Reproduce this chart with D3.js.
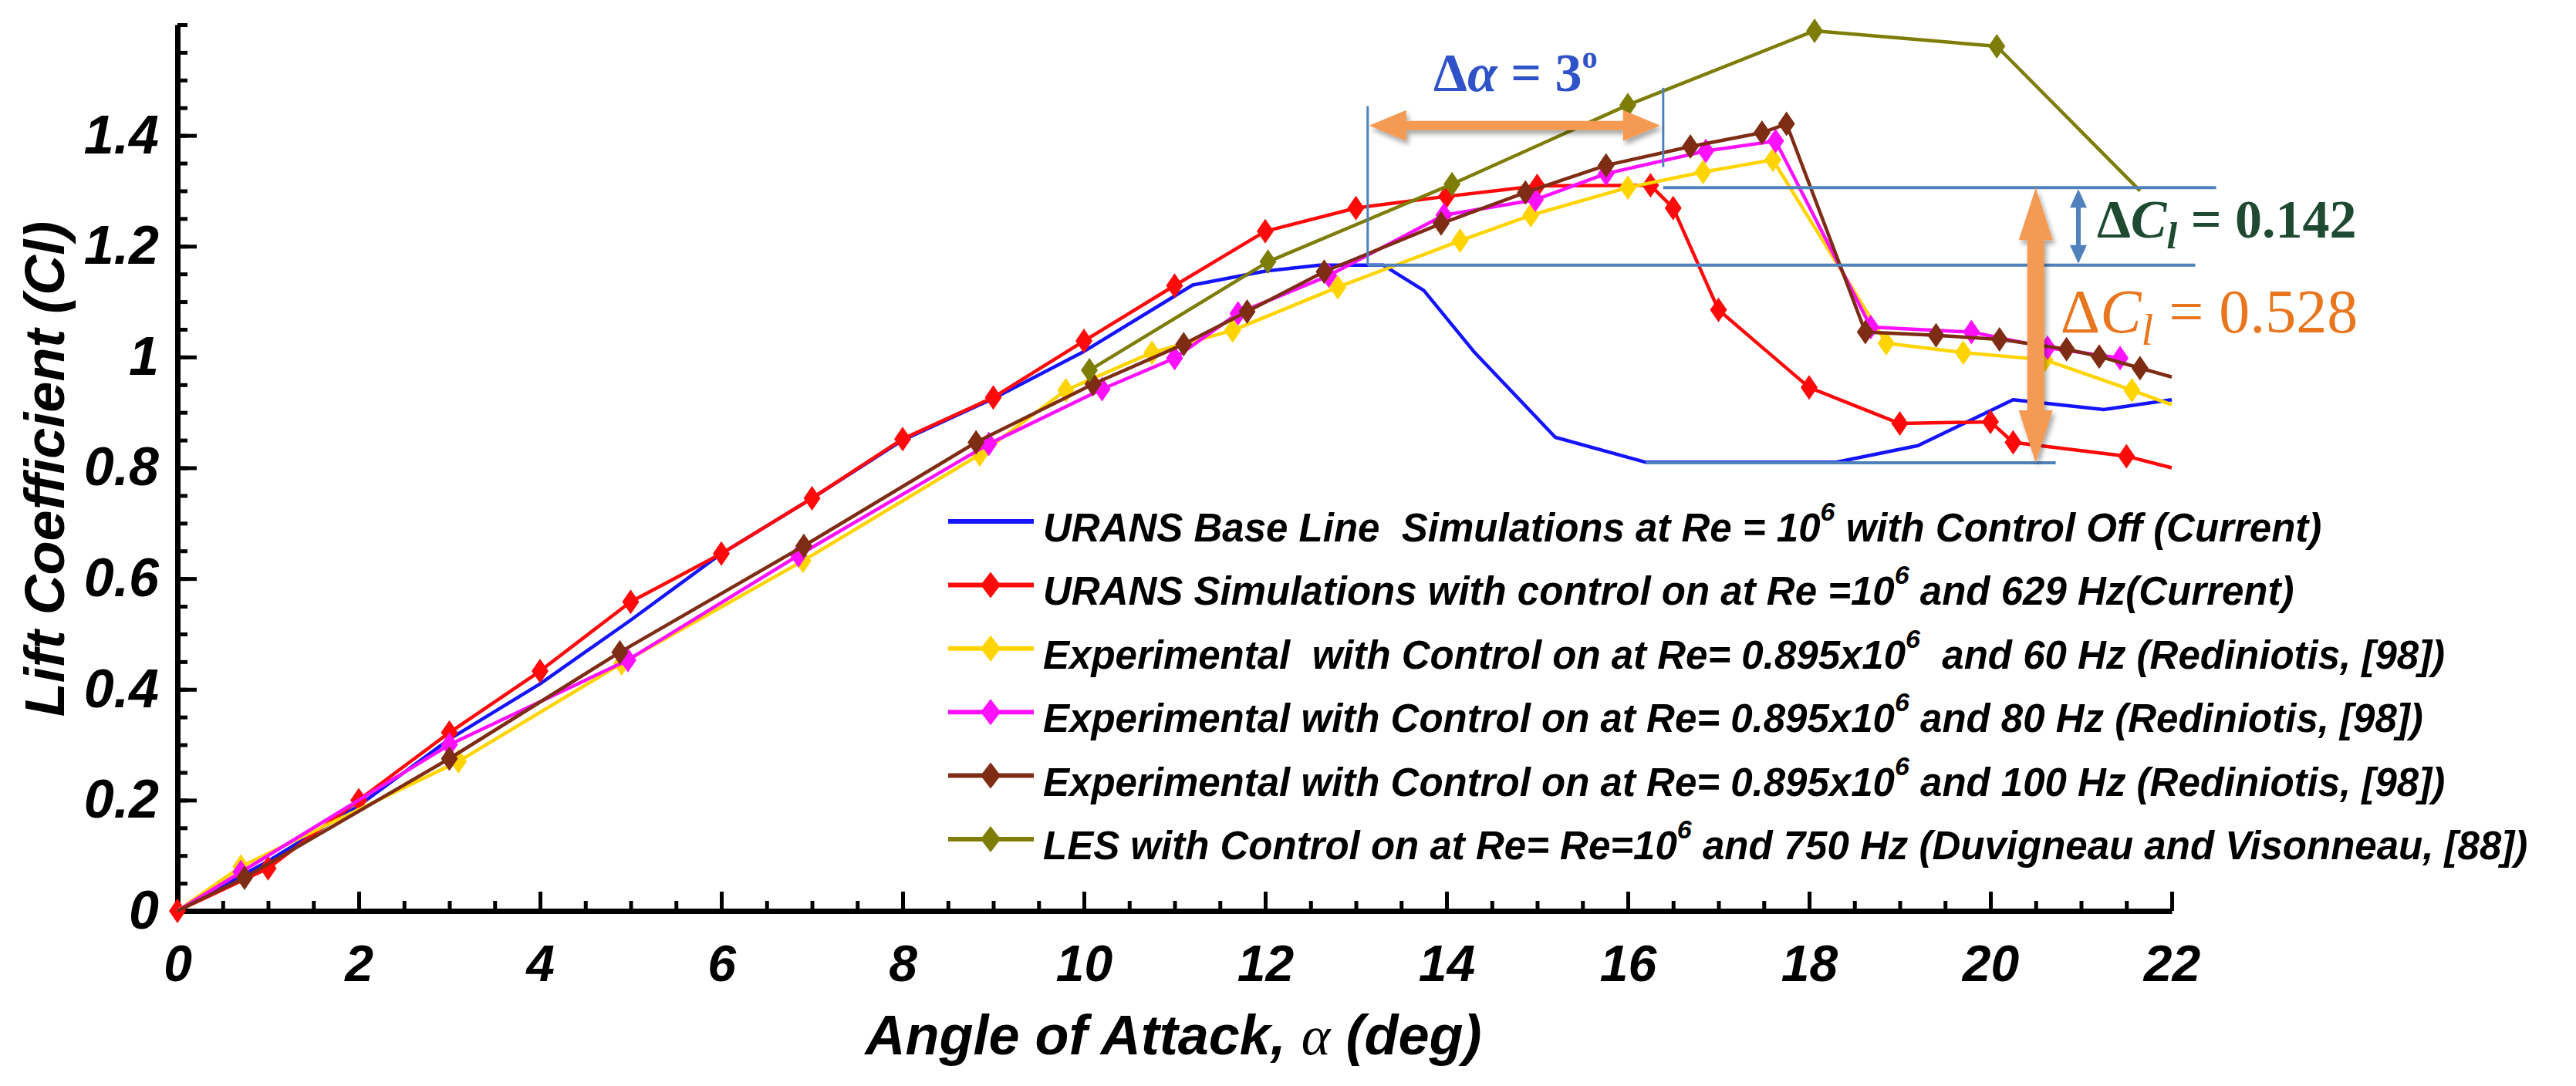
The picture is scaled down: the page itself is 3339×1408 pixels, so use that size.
<!DOCTYPE html>
<html>
<head>
<meta charset="utf-8">
<script src="https://cdn.jsdelivr.net/npm/d3@7"></script>
<style>
  body { margin: 0; background: #ffffff; }
  svg { display: block; }
  text { white-space: pre; }
</style>
</head>
<body>
<div id="chart"></div>
<script>
// Lift coefficient vs angle of attack, each point is [alpha (deg), Cl]
const urans_base_line = [
  [0, 0], [1, 0.09], [2, 0.19], [3, 0.31], [4, 0.41], [5, 0.525], [6, 0.645],
  [7, 0.745], [8, 0.85], [9, 0.925], [10, 1.01], [11.2, 1.13], [12, 1.155],
  [12.6, 1.166], [13.3, 1.166], [13.75, 1.12], [14.3, 1.01], [15.2, 0.855],
  [16.2, 0.81], [18.3, 0.81], [19.2, 0.84], [20.25, 0.923], [21.25, 0.905], [22, 0.923],
];
const urans_control_on = [
  [0, 0], [1, 0.077], [2, 0.2], [3, 0.322], [4, 0.433], [5, 0.558], [6, 0.645],
  [7, 0.745], [8, 0.852], [9, 0.927], [10, 1.029], [11, 1.129], [12, 1.227],
  [13, 1.269], [14, 1.29], [15, 1.309], [16.25, 1.31], [16.5, 1.269], [17, 1.085],
  [18, 0.945], [19, 0.88], [20, 0.883], [20.25, 0.846], [21.5, 0.821], [22, 0.8],
];
const exp_60hz = [
  [0, 0], [0.7, 0.08], [3.1, 0.27], [4.9, 0.447], [6.9, 0.632], [8.85, 0.824],
  [9.8, 0.94], [10.75, 1.008], [11.64, 1.048], [12.8, 1.126], [14.15, 1.21],
  [14.93, 1.256], [16, 1.306], [16.83, 1.334], [17.6, 1.356], [18.85, 1.025],
  [19.7, 1.008], [20.6, 0.995], [21.56, 0.94], [22, 0.914],
];
const exp_80hz = [
  [0, 0], [0.7, 0.07], [3, 0.3], [4.97, 0.453], [6.85, 0.642], [8.95, 0.843],
  [10.2, 0.942], [11, 0.998], [11.7, 1.079], [12.7, 1.147], [13.97, 1.256],
  [14.98, 1.284], [15.76, 1.331], [16.86, 1.372], [17.63, 1.39], [18.68, 1.054],
  [19.79, 1.045], [20.63, 1.017], [21.43, 0.998],
];
const exp_100hz = [
  [0, 0], [0.74, 0.06], [3, 0.275], [4.88, 0.467], [6.91, 0.659], [8.81, 0.846],
  [10.1, 0.951], [11.1, 1.023], [11.8, 1.082], [12.65, 1.154], [13.94, 1.241],
  [14.87, 1.297], [15.76, 1.346], [16.69, 1.38], [17.48, 1.405], [17.75, 1.421],
  [18.62, 1.045], [19.4, 1.039], [20.1, 1.032], [20.84, 1.014], [21.2, 1.001],
  [21.65, 0.98], [22, 0.964],
];
const les_750hz = [
  [10.06, 0.976], [12.03, 1.172], [14.06, 1.312], [16, 1.455], [18.06, 1.589],
  [20.07, 1.561], [21.65, 1.3],
];

const x_ticks = d3.range(0, 23, 2);
const y_ticks = [0, 0.2, 0.4, 0.6, 0.8, 1, 1.2, 1.4];
const x_minor_ticks = d3.range(0, 22.01, 0.5);
const y_minor_ticks = d3.range(0, 1.601, 0.05);

// legend text split as [before superscript, superscript, after]
const legend_labels = [
  ["URANS Base Line  Simulations at Re = 10", "6", " with Control Off (Current)"],
  ["URANS Simulations with control on at Re =10", "6", " and 629 Hz(Current)"],
  ["Experimental  with Control on at Re= 0.895x10", "6", "  and 60 Hz (Rediniotis, [98])"],
  ["Experimental with Control on at Re= 0.895x10", "6", " and 80 Hz (Rediniotis, [98])"],
  ["Experimental with Control on at Re= 0.895x10", "6", " and 100 Hz (Rediniotis, [98])"],
  ["LES with Control on at Re= Re=10", "6", " and 750 Hz (Duvigneau and Visonneau, [88])"],
];

// annotation values (deg / Cl)
const stall_alpha = [13.13, 16.39];
const cl_base_max = 1.166;
const cl_ctrl_max = 1.306;
const cl_base_min = 0.809;
const delta_cl_labels = ["0.142", "0.528"];

const svg_width = 3339;
const svg_height = 1408;
const margins = [32, 524, 227, 230]; //top, right, bottom, left

const sans = "'Liberation Sans', Arial, sans-serif";
const serif = "'Liberation Serif', 'Times New Roman', serif";

const series = [
  { data: urans_base_line, color: "#1414ff", marker: false, label: legend_labels[0] },
  { data: urans_control_on, color: "#ff0a0a", marker: true, first: true, last: false, label: legend_labels[1] },
  { data: exp_60hz, color: "#ffd400", marker: true, first: false, last: false, label: legend_labels[2] },
  { data: exp_80hz, color: "#ff10ff", marker: true, first: false, last: true, label: legend_labels[3] },
  { data: exp_100hz, color: "#7e2c14", marker: true, first: false, last: false, label: legend_labels[4] },
  { data: les_750hz, color: "#7d7d08", marker: true, first: true, last: false, label: legend_labels[5] },
];

let svg, x_axis, y_axis;

function diamond(w, h) {
  return `M0,${-h}L${w},0L0,${h}L${-w},0Z`;
}

function doubleArrow(x1, y1, x2, y2, shaft, head_w, head_l) {
  // arrow along a line, heads at both ends
  const len = Math.hypot(x2 - x1, y2 - y1);
  const pts = [
    [0, 0], [head_l, -head_w / 2], [head_l, -shaft / 2], [len - head_l, -shaft / 2],
    [len - head_l, -head_w / 2], [len, 0], [len - head_l, head_w / 2],
    [len - head_l, shaft / 2], [head_l, shaft / 2], [head_l, head_w / 2],
  ];
  const ang = Math.atan2(y2 - y1, x2 - x1);
  const c = Math.cos(ang), s = Math.sin(ang);
  return "M" + pts.map(([u, v]) => [x1 + u * c - v * s, y1 + u * s + v * c].join(",")).join("L") + "Z";
}

function initAxes() {
  const [margin_top, margin_right, margin_bottom, margin_left] = margins;
  x_axis = d3.scaleLinear().domain([0, 22]).range([margin_left, svg_width - margin_right]);
  y_axis = d3.scaleLinear().domain([0, 1.6]).range([svg_height - margin_bottom, margin_top]);

  const x0 = y_axis(0);
  const y0 = x_axis(0);

  // minor ticks
  svg.append("g")
    .attr("transform", `translate(0,${x0})`)
    .call(d3.axisBottom(x_axis).tickValues(x_minor_ticks).tickSize(-13).tickFormat(""))
    .call((g) => g.select(".domain").remove())
    .call((g) => g.selectAll("line").attr("stroke", "#000").attr("stroke-width", 5));
  svg.append("g")
    .attr("transform", `translate(${y0},0)`)
    .call(d3.axisLeft(y_axis).tickValues(y_minor_ticks).tickSize(-13).tickFormat(""))
    .call((g) => g.select(".domain").remove())
    .call((g) => g.selectAll("line").attr("stroke", "#000").attr("stroke-width", 5));

  // major ticks + labels
  svg.append("g")
    .attr("id", "x_axis")
    .attr("transform", `translate(0,${x0})`)
    .call(d3.axisBottom(x_axis).tickValues(x_ticks).tickSizeInner(-25).tickSizeOuter(0).tickPadding(44).tickFormat(d3.format("~g")))
    .call((g) => g.select(".domain").attr("stroke", "#000").attr("stroke-width", 7))
    .call((g) => g.selectAll("line").attr("stroke", "#000").attr("stroke-width", 5))
    .call((g) => g.selectAll("text")
      .attr("fill", "#000")
      .style("font-family", sans)
      .style("font-size", "66px")
      .style("font-weight", "bold")
      .style("font-style", "italic"));

  svg.append("g")
    .attr("id", "y_axis")
    .attr("transform", `translate(${y0},0)`)
    .call(d3.axisLeft(y_axis).tickValues(y_ticks).tickSizeInner(-25).tickSizeOuter(0).tickPadding(24).tickFormat(d3.format("~g")))
    .call((g) => g.select(".domain").attr("stroke", "#000").attr("stroke-width", 7))
    .call((g) => g.selectAll("line").attr("stroke", "#000").attr("stroke-width", 5))
    .call((g) => g.selectAll("text")
      .attr("fill", "#000")
      .style("font-family", sans)
      .style("font-size", "70px")
      .style("font-weight", "bold")
      .style("font-style", "italic"));

  // axis titles
  const x_label = svg.append("text")
    .attr("x", 1521)
    .attr("y", 1367)
    .attr("text-anchor", "middle")
    .style("font-family", sans)
    .style("font-size", "72px")
    .style("font-weight", "bold")
    .style("font-style", "italic");
  x_label.append("tspan").text("Angle of Attack, ");
  x_label.append("tspan").style("font-family", serif).style("font-weight", "normal").text("α");
  x_label.append("tspan").text(" (deg)");

  svg.append("text")
    .attr("transform", "translate(83,608) rotate(-90)")
    .attr("text-anchor", "middle")
    .style("font-family", sans)
    .style("font-size", "72px")
    .style("font-weight", "bold")
    .style("font-style", "italic")
    .text("Lift Coefficient (Cl)");
}

function drawSeries() {
  const line = d3.line()
    .x(([a, cl]) => x_axis(a))
    .y(([a, cl]) => y_axis(cl));

  for (const s of series) {
    svg.append("path")
      .datum(s.data)
      .attr("fill", "none")
      .attr("stroke", s.color)
      .attr("stroke-width", 4.5)
      .attr("stroke-linejoin", "round")
      .attr("d", line);
    if (!s.marker) continue;
    const pts = s.data.filter((d, i) =>
      !(i === 0 && !s.first) && !(i === s.data.length - 1 && !s.last));
    svg.append("g")
      .selectAll("path")
      .data(pts)
      .join("path")
      .attr("transform", ([a, cl]) => `translate(${x_axis(a)},${y_axis(cl)})`)
      .attr("d", diamond(11, 16))
      .attr("fill", s.color);
  }
}

function drawLegend() {
  const row_y = (i) => 676 + i * 82.4;
  series.forEach((s, i) => {
    const y = row_y(i);
    svg.append("line")
      .attr("x1", 1229).attr("x2", 1340)
      .attr("y1", y).attr("y2", y)
      .attr("stroke", s.color)
      .attr("stroke-width", 6);
    if (s.marker)
      svg.append("path")
        .attr("transform", `translate(1284,${y})`)
        .attr("d", diamond(13, 17))
        .attr("fill", s.color);
    const t = svg.append("text")
      .attr("x", 1352)
      .attr("y", y + 26)
      .attr("fill", "#000")
      .style("font-family", sans)
      .style("font-size", "51px")
      .style("font-weight", "bold")
      .style("font-style", "italic");
    t.append("tspan").text(s.label[0]);
    t.append("tspan").attr("dy", -27).style("font-size", "34px").text(s.label[1]);
    t.append("tspan").attr("dy", 27).text(s.label[2]);
  });
}

function drawAnnotations() {
  const ann = svg.append("g");
  const guide = "#4f81bd";
  const orange = "#f59a52";

  const defs = svg.append("defs");
  defs.append("filter")
    .attr("id", "shadow")
    .attr("x", "-20%").attr("y", "-20%").attr("width", "140%").attr("height", "140%")
    .append("feDropShadow")
    .attr("dx", 3).attr("dy", 5).attr("stdDeviation", 3)
    .attr("flood-color", "#000").attr("flood-opacity", 0.35);

  const xa = x_axis(stall_alpha[0]);
  const xb = x_axis(stall_alpha[1]);

  // guide lines
  ann.append("line").attr("x1", xa).attr("x2", xa)
    .attr("y1", y_axis(1.453)).attr("y2", y_axis(cl_base_max))
    .attr("stroke", guide).attr("stroke-width", 3);
  ann.append("line").attr("x1", xb).attr("x2", xb)
    .attr("y1", y_axis(1.486)).attr("y2", y_axis(1.343))
    .attr("stroke", guide).attr("stroke-width", 3);
  ann.append("line").attr("x1", xb).attr("x2", x_axis(22.49))
    .attr("y1", y_axis(cl_ctrl_max)).attr("y2", y_axis(cl_ctrl_max))
    .attr("stroke", guide).attr("stroke-width", 4);
  ann.append("line").attr("x1", xa).attr("x2", x_axis(22.26))
    .attr("y1", y_axis(cl_base_max)).attr("y2", y_axis(cl_base_max))
    .attr("stroke", guide).attr("stroke-width", 4);
  ann.append("line").attr("x1", x_axis(16.2)).attr("x2", x_axis(20.72))
    .attr("y1", y_axis(cl_base_min)).attr("y2", y_axis(cl_base_min))
    .attr("stroke", guide).attr("stroke-width", 4);

  // delta alpha arrow
  const ya = y_axis(1.418);
  ann.append("path")
    .attr("d", doubleArrow(xa + 2, ya, xb - 4, ya, 12, 40, 48))
    .attr("fill", orange)
    .attr("filter", "url(#shadow)");

  const ta = ann.append("text")
    .attr("x", (xa + xb) / 2)
    .attr("y", ya - 45)
    .attr("text-anchor", "middle")
    .attr("fill", "#2f52c8")
    .style("font-family", serif)
    .style("font-size", "70px")
    .style("font-weight", "bold");
  ta.append("tspan").text("Δ");
  ta.append("tspan").style("font-style", "italic").text("α");
  ta.append("tspan").text(" = 3");
  ta.append("tspan").attr("dy", -30).style("font-size", "40px").text("o");

  // delta Cl arrows
  const xo = x_axis(20.5);
  ann.append("path")
    .attr("d", doubleArrow(xo, y_axis(cl_ctrl_max), xo, y_axis(cl_base_min), 22, 44, 68))
    .attr("fill", orange)
    .attr("filter", "url(#shadow)");
  const xs = x_axis(20.97);
  ann.append("path")
    .attr("d", doubleArrow(xs, y_axis(cl_ctrl_max) + 2, xs, y_axis(cl_base_max) - 2, 6, 22, 24))
    .attr("fill", guide);

  const deltaCl = (x, y, size, color, weight, value) => {
    const t = ann.append("text")
      .attr("x", x)
      .attr("y", y)
      .attr("fill", color)
      .style("font-family", serif)
      .style("font-size", size + "px")
      .style("font-weight", weight);
    t.append("tspan").text("Δ");
    t.append("tspan").style("font-style", "italic").text("C");
    t.append("tspan").attr("dy", size * 0.2).style("font-style", "italic")
      .style("font-size", size * 0.7 + "px").text("l");
    t.append("tspan").attr("dy", -size * 0.2).text(" = " + value);
  };
  deltaCl(xs + 24, (y_axis(cl_ctrl_max) + y_axis(cl_base_max)) / 2 + 15, 70, "#1f4a32", "bold", delta_cl_labels[0]);
  deltaCl(xo + 32, y_axis(1.045), 80, "#e8761f", "normal", delta_cl_labels[1]);
}

function initialize() {
  svg = d3.select("#chart")
    .append("svg")
    .attr("width", svg_width)
    .attr("height", svg_height)
    .style("background", "#fff");
  initAxes();
  drawSeries();
  drawAnnotations();
  drawLegend();
}

initialize();
</script>
</body>
</html>
